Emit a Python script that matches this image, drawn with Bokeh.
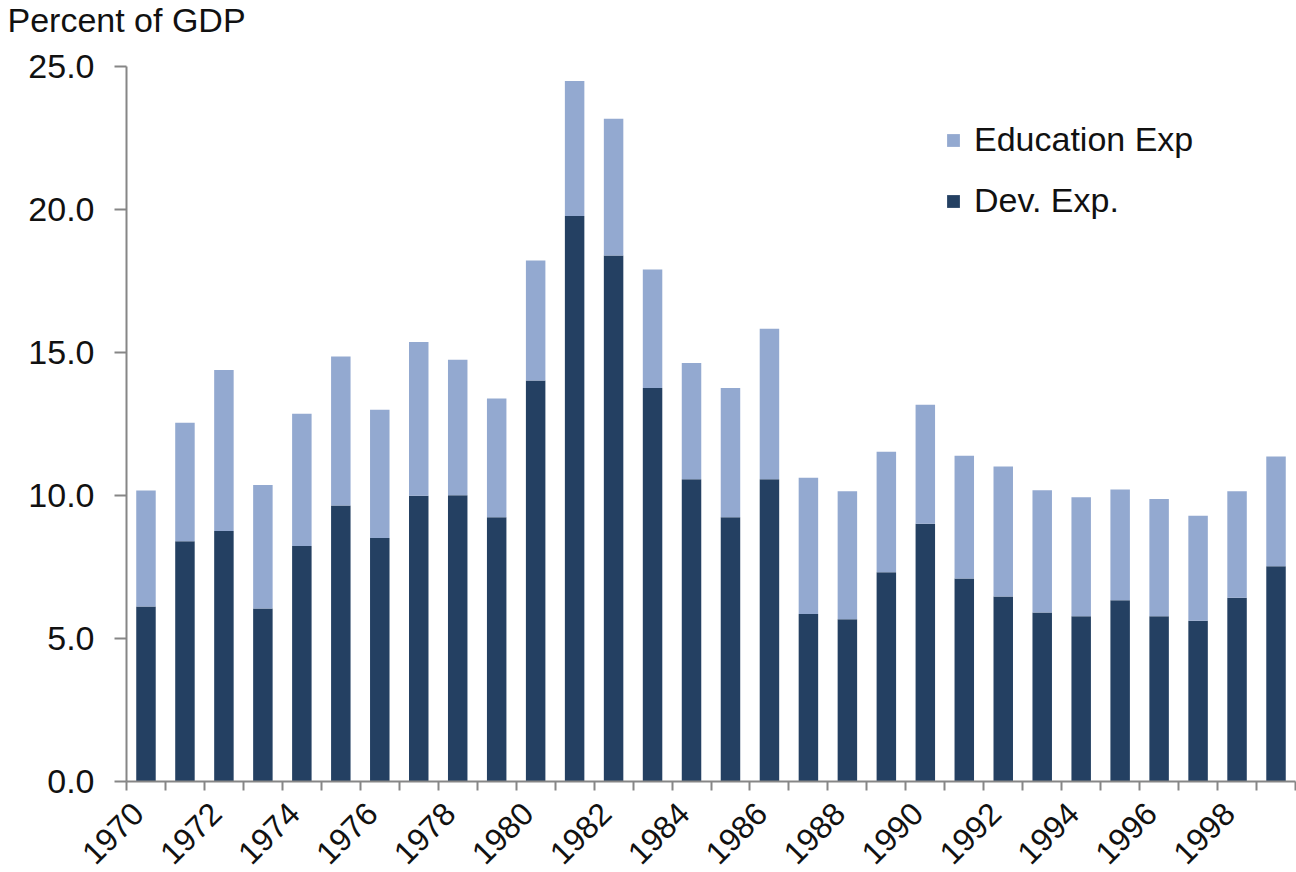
import math
from bokeh.plotting import figure
from bokeh.models import (FixedTicker, NumeralTickFormatter, Range1d, Legend,
                          LegendItem, ColumnDataSource, Label, LinearAxis)
from bokeh.embed import file_html
from bokeh.resources import INLINE

# Government expenditure, percent of GDP
years = list(range(1970, 2000))
dev_exp = [6.11, 8.39, 8.75, 6.04, 8.22, 9.64, 8.50, 9.98, 10.00, 9.23,
           14.01, 19.76, 18.38, 13.75, 10.56, 9.23, 10.56, 5.85, 5.66, 7.31,
           9.00, 7.09, 6.46, 5.90, 5.77, 6.33, 5.77, 5.61, 6.41, 7.52]
edu_exp = [4.05, 4.14, 5.63, 4.32, 4.63, 5.21, 4.49, 5.38, 4.74, 4.15,
           4.20, 4.72, 4.78, 4.14, 4.06, 4.52, 5.26, 4.76, 4.48, 4.21,
           4.16, 4.29, 4.54, 4.27, 4.16, 3.87, 4.10, 3.67, 3.73, 3.83]
y_ticks = [0, 5, 10, 15, 20, 25]
label_years = years[::2]

DARK = "#244062"
LIGHT = "#93A9D0"
AXIS = "#868686"
TEXT = "#111111"
FONT = "Liberation Sans"
FS = "34px"

W, H = 1296, 872
x_lo, x_hi = years[0] - 0.5, years[-1] + 0.5
px_per_year = 1169.0 / (x_hi - x_lo)
px_per_pct = 715.0 / 25.0
left_px, bottom_px = 126.0, 91.3

source = ColumnDataSource(dict(year=years, dev=dev_exp, edu=edu_exp))

# the plotting area spans the whole canvas; axes sit at fixed data positions
p = figure(width=W, height=H, output_backend="svg", toolbar_location=None,
           x_range=Range1d(x_lo - left_px / px_per_year,
                           x_lo + (W - left_px) / px_per_year),
           y_range=Range1d(-bottom_px / px_per_pct,
                           (H - bottom_px) / px_per_pct),
           x_axis_type=None, y_axis_type=None,
           min_border=0)

stack = p.vbar_stack(["dev", "edu"], x="year", width=0.5, source=source,
                     color=[DARK, LIGHT], line_color=None)

p.xgrid.visible = False
p.ygrid.visible = False
p.outline_line_color = None
p.background_fill_color = "white"
p.border_fill_color = "white"

# x axis: separator ticks between years, slanted labels on every other year;
# the label anchors sit a little left of the bar centres and round to the year
xa = LinearAxis(fixed_location=0, bounds=(x_lo, x_hi))
xa.ticker = FixedTicker(ticks=[y - 0.2 for y in label_years],
                        minor_ticks=[y - 0.5 for y in years] + [x_hi])
xa.formatter = NumeralTickFormatter(format="0")
xa.major_tick_out = 0
xa.major_tick_in = 0
xa.minor_tick_out = 9
xa.minor_tick_in = 0
xa.minor_tick_line_color = AXIS
xa.minor_tick_line_width = 2
xa.axis_line_color = AXIS
xa.axis_line_width = 2
xa.major_label_orientation = math.pi / 4
xa.major_label_standoff = 18
xa.major_label_text_font = FONT
xa.major_label_text_font_size = "32px"
xa.major_label_text_color = TEXT
p.add_layout(xa, "below")

# y axis
ya = LinearAxis(fixed_location=x_lo, bounds=(0, 25))
ya.ticker = FixedTicker(ticks=y_ticks)
ya.formatter = NumeralTickFormatter(format="0.0")
ya.major_tick_out = 12
ya.major_tick_in = 0
ya.minor_tick_out = 0
ya.minor_tick_in = 0
ya.major_tick_line_color = AXIS
ya.major_tick_line_width = 2
ya.axis_line_color = AXIS
ya.axis_line_width = 2
ya.major_label_standoff = 20
ya.major_label_text_font = FONT
ya.major_label_text_font_size = FS
ya.major_label_text_color = TEXT
p.add_layout(ya, "left")

# unit label in the top-left corner
p.add_layout(Label(x=x_lo - 119 / px_per_year, y=26.6, text="Percent of GDP",
                   text_align="left", text_baseline="middle",
                   text_font=FONT, text_font_size=FS, text_color=TEXT))

legend = Legend(items=[LegendItem(label="Education Exp", renderers=[stack[1]]),
                       LegendItem(label="Dev. Exp.", renderers=[stack[0]])],
                location=(945, 652), orientation="vertical",
                glyph_width=16, glyph_height=16, label_height=38,
                label_standoff=13, spacing=22, padding=0, margin=0,
                border_line_color=None, background_fill_alpha=0,
                label_text_font=FONT, label_text_font_size=FS,
                label_text_color=TEXT)
p.add_layout(legend, "center")

open("out.html", "w").write(file_html(p, INLINE))
